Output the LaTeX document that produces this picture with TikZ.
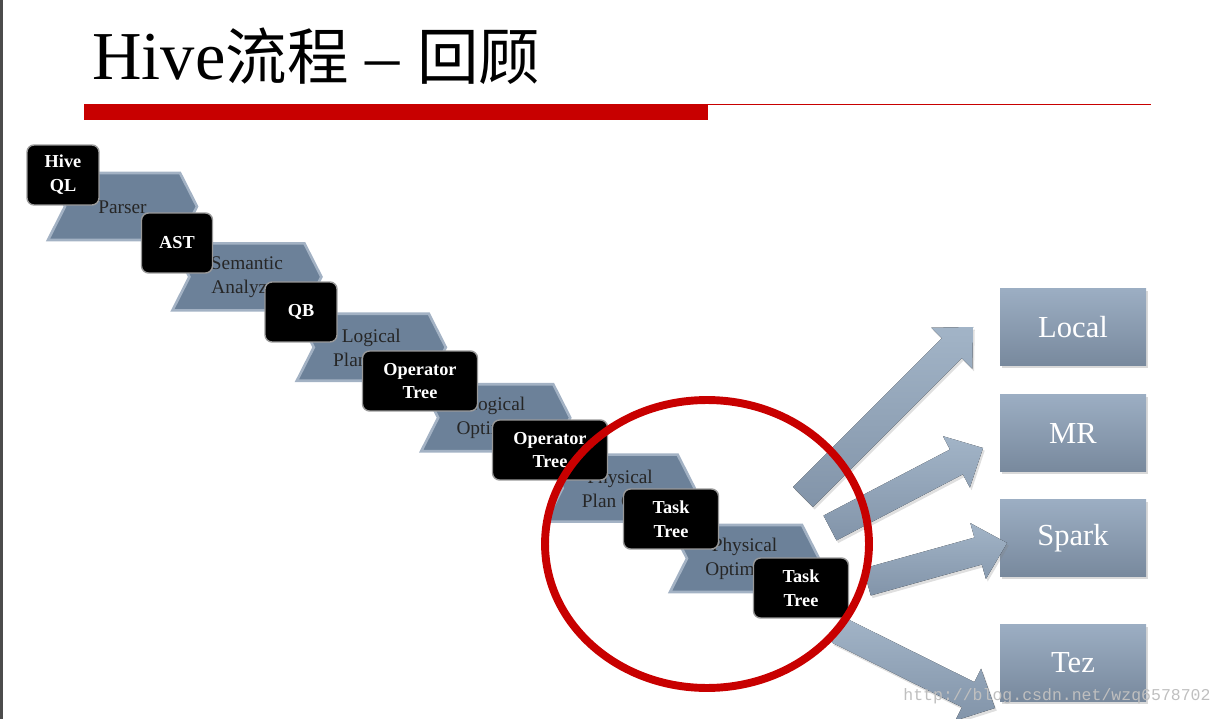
\documentclass[tikz,border=0pt]{standalone}
\usepackage{fontspec}
\setmainfont{Liberation Serif}
\setmonofont{Liberation Mono}
\newfontfamily\cjk{Noto Sans CJK SC}
\usepackage{xcolor}
\usepackage{tikz}
\usetikzlibrary{calc,shadows}

\definecolor{slidered}{RGB}{200,0,0}
\definecolor{stepfill}{RGB}{108,129,153}
\definecolor{stepline}{RGB}{163,178,196}
\definecolor{tgttop}{RGB}{156,174,195}
\definecolor{tgtbot}{RGB}{120,137,157}
\definecolor{arrtop}{RGB}{162,180,199}
\definecolor{arrbot}{RGB}{130,148,169}

% fat block arrow from #1 (tail) to #2 (tip)
\newcommand\blockarrow[2]{%
  \coordinate (hb) at ($(#2)!0.6cm!(#1)$);
  \fill[fatarrow] ($(#1)!0.28cm!90:(#2)$) -- ($(hb)!0.28cm!90:(#2)$)
    -- ($(hb)!0.58cm!90:(#2)$) -- (#2) -- ($(hb)!0.58cm!-90:(#2)$)
    -- ($(hb)!0.28cm!-90:(#2)$) -- ($(#1)!0.28cm!-90:(#2)$) -- cycle;}

\begin{document}
\begin{tikzpicture}[x=0.02cm, y=-0.02cm,
        chevron/.style={fill=stepfill, draw=stepline, line width=1.5pt, line join=miter},
        steptext/.style={font=\fontsize{11}{13.6}\selectfont, align=center, text=black!85, inner sep=0},
        stage/.style={fill=black, draw=black!40, line width=0.8pt, rounded corners=4pt,
                      text=white, font=\bfseries\fontsize{10.4}{13.6}\selectfont, align=center,
                      minimum height=1.2cm, inner sep=0},
        target/.style={top color=tgttop, bottom color=tgtbot, minimum width=2.92cm,
                       minimum height=1.54cm, text=white, font=\fontsize{17.4}{20}\selectfont,
                       drop shadow={shadow xshift=1pt, shadow yshift=-1.5pt, opacity=0.3}},
        fatarrow/.style={top color=arrtop, bottom color=arrbot,
                         drop shadow={shadow xshift=1pt, shadow yshift=-1.5pt, opacity=0.25}}
    ]
    \useasboundingbox (0,0) rectangle (1223,719);
    \fill[black!70] (0,0) rectangle (3,719);

    % title and rule
    \node[anchor=base west, inner sep=0, font=\fontsize{39}{42}\selectfont] (title) at (92,80)
        {Hive{\cjk\fontsize{35}{42}\selectfont 流程} – {\cjk\fontsize{35}{42}\selectfont 回顾}};
    \fill[slidered] (84,104) rectangle (708,120);
    \fill[slidered] (708,104) rectangle (1151,105.5);

    % process steps
    \foreach \i/\txt in {0/Parser, 1/{Semantic\\Analyzer}, 2/{Logical\\Plan Gen.},
                         3/{Logical\\Optimizer}, 4/{Physical\\Plan Gen.}, 5/{Physical\\Optimizer}} {
        \pgfmathsetmacro\xa{48+124.4*\i}
        \pgfmathsetmacro\ya{173+70.4*\i}
        \draw[chevron] (\xa,\ya+67) -- (\xa+17,\ya+33.5) -- (\xa,\ya) -- (\xa+132,\ya)
            -- (\xa+149,\ya+33.5) -- (\xa+132,\ya+67) -- cycle;
        \node[steptext] (s\i) at (\xa+74.5,\ya+34) {\txt};
    }

    % intermediate results
    \node[stage, minimum width=1.44cm] (hql)  at (63,175)  {Hive\\QL};
    \node[stage, minimum width=1.42cm] (ast)  at (177,243) {AST};
    \node[stage, minimum width=1.44cm] (qb)   at (301,312) {QB};
    \node[stage, minimum width=2.3cm]  (op1)  at (420,381) {Operator\\Tree};
    \node[stage, minimum width=2.3cm]  (op2)  at (550,450) {Operator\\Tree};
    \node[stage, minimum width=1.9cm]  (task1) at (671,519) {Task\\Tree};
    \node[stage, minimum width=1.9cm]  (task2) at (801,588) {Task\\Tree};

    % execution engines
    \node[target] (local) at (1073,327) {Local};
    \node[target] (mr)    at (1073,433) {MR};
    \node[target] (spark) at (1073,538) {Spark};
    \node[target] (tez)   at (1073,663) {Tez};

    \coordinate (t1) at (803,497);  \coordinate (h1) at (973,327);
    \coordinate (t2) at (830,528);  \coordinate (h2) at (983,448);
    \coordinate (t3) at (867,582);  \coordinate (h3) at (1007,543);
    \coordinate (t4) at (838,630);  \coordinate (h4) at (995,708);
    \blockarrow{t1}{h1}
    \blockarrow{t2}{h2}
    \blockarrow{t3}{h3}
    \blockarrow{t4}{h4}

    % highlight
    \draw[slidered, line width=4.5pt] (707,544) ellipse [x radius=3.24cm, y radius=2.88cm];

    \node[anchor=base west, inner sep=0, text=black!25, font=\ttfamily\fontsize{9.4}{11}\selectfont]
        (mark) at (903,700) {http://blog.csdn.net/wzq6578702};
\end{tikzpicture}
\end{document}
